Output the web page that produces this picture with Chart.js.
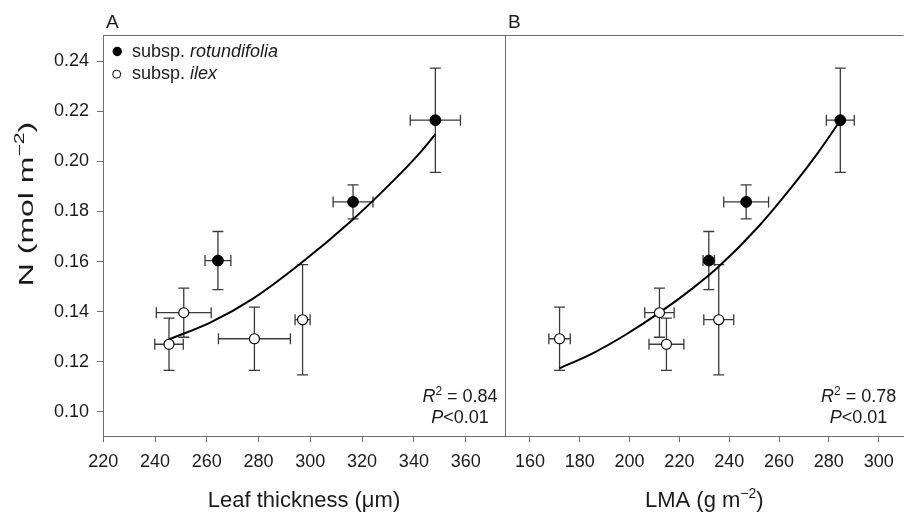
<!DOCTYPE html>
<html><head><meta charset="utf-8">
<script src="https://cdn.jsdelivr.net/npm/chart.js@4.4.0/dist/chart.umd.min.js"></script>
<style>
html,body{margin:0;padding:0;background:#fff;overflow:hidden;width:905px;height:514px;}
#wa{position:absolute;left:0;top:0;width:520px;height:514px;}
#wb{position:absolute;left:480px;top:0;width:430px;height:514px;}
canvas{display:block;}
</style></head><body>
<div id="wa"><canvas id="ca" width="520" height="514"></canvas></div>
<div id="wb"><canvas id="cb" width="430" height="514"></canvas></div>
<script>
// ---- data ----
const nRot      = [0.1604, 0.1838, 0.2164];
const nRotErr   = [0.0116, 0.0068, 0.0208];
const nIlex     = [0.1270, 0.1396, 0.1292, 0.1368];
const nIlexErr  = [0.0104, 0.0098, 0.0126, 0.0220];

const thickRot     = [264.3, 316.5, 348.3];
const thickRotErr  = [5.0, 7.7, 9.7];
const thickIlex    = [245.4, 251.1, 278.4, 297.0];
const thickIlexErr = [5.5, 10.6, 13.9, 2.9];

const lmaRot     = [231.8, 246.8, 284.6];
const lmaRotErr  = [2.3, 9.0, 5.6];
const lmaIlex    = [214.8, 212.0, 171.9, 235.8];
const lmaIlexErr = [7.0, 5.9, 4.3, 6.0];

const fitThickX = [245.5, 261.3, 278.0, 296.2, 316.1, 332.2, 342.5, 348.3];
const fitThickY = [0.1290, 0.1356, 0.1453, 0.1592, 0.1765, 0.1924, 0.2036, 0.2108];
const fitLmaX = [171.9, 185.2, 198.4, 211.7, 224.9, 235.5, 251.5, 264.7, 275.3, 284.6];
const fitLmaY = [0.1174, 0.1234, 0.1308, 0.1394, 0.1490, 0.1577, 0.1737, 0.1893, 0.2030, 0.2163];

const thickTicks = [220, 240, 260, 280, 300, 320, 340, 360];
const lmaTicks   = [160, 180, 200, 220, 240, 260, 280, 300];
const nTicks     = [0.10, 0.12, 0.14, 0.16, 0.18, 0.20, 0.22, 0.24];

const statsA = ['0.84', '0.01'];
const statsB = ['0.78', '0.01'];

// ---- styling ----
const FAM = '"Liberation Sans", Arial, Helvetica, sans-serif';
const AXIS = '#6e6e6e';
const TXT = '#1a1a1a';
const ERR = '#3a3a3a';
const f = (s, it) => (it ? 'italic ' : '') + s + 'px ' + FAM;

function rich(ctx, segs, x, y, align) {
  let w = 0;
  segs.forEach(s => { ctx.font = s.f; s.w = ctx.measureText(s.t).width; w += s.w; });
  let cx = align === 'center' ? x - w / 2 : (align === 'right' ? x - w : x);
  ctx.textAlign = 'left';
  ctx.textBaseline = 'alphabetic';
  segs.forEach(s => { ctx.font = s.f; ctx.fillText(s.t, cx, y + (s.dy || 0)); cx += s.w; });
}

const errorBars = {
  id: 'errorBars',
  beforeDatasetsDraw(chart) {
    const ctx = chart.ctx, xs = chart.scales.x, ys = chart.scales.y;
    ctx.save();
    ctx.strokeStyle = ERR; ctx.lineWidth = 1.3;
    const cap = 5.5;
    chart.data.datasets.forEach(ds => {
      if (!ds.errX) return;
      ds.data.forEach((p, i) => {
        const px = xs.getPixelForValue(p.x), py = ys.getPixelForValue(p.y);
        const x1 = xs.getPixelForValue(p.x - ds.errX[i]), x2 = xs.getPixelForValue(p.x + ds.errX[i]);
        const y1 = ys.getPixelForValue(p.y + ds.errY[i]), y2 = ys.getPixelForValue(p.y - ds.errY[i]);
        ctx.beginPath();
        ctx.moveTo(px, y1); ctx.lineTo(px, y2);
        ctx.moveTo(px - cap, y1); ctx.lineTo(px + cap, y1);
        ctx.moveTo(px - cap, y2); ctx.lineTo(px + cap, y2);
        ctx.moveTo(x1, py); ctx.lineTo(x2, py);
        ctx.moveTo(x1, py - cap); ctx.lineTo(x1, py + cap);
        ctx.moveTo(x2, py - cap); ctx.lineTo(x2, py + cap);
        ctx.stroke();
      });
    });
    ctx.restore();
  }
};

function frameAndText(panel) {
  return {
    id: 'frame' + panel,
    afterDraw(chart) {
      const ctx = chart.ctx, a = chart.chartArea;
      ctx.save();
      ctx.strokeStyle = AXIS; ctx.lineWidth = 1;
      const ty = Math.round(a.top) + 0.5;
      ctx.beginPath(); ctx.moveTo(a.left, ty); ctx.lineTo(a.right, ty); ctx.stroke();
      ctx.fillStyle = TXT;
      rich(ctx, [{t: panel, f: f(19)}], a.left + 3, a.top - 7, 'left');
      const cxArea = (a.left + a.right) / 2;
      const st = panel === 'A' ? statsA : statsB;
      const sx = a.right - 45;
      rich(ctx, [{t: 'R', f: f(18, true)}, {t: '2', f: f(12), dy: -7}, {t: ' = ' + st[0], f: f(18)}], sx, a.bottom - 34.5, 'center');
      rich(ctx, [{t: 'P', f: f(18, true)}, {t: '<' + st[1], f: f(18)}], sx, a.bottom - 13, 'center');
      if (panel === 'A') {
        ctx.fillStyle = '#000';
        ctx.beginPath(); ctx.arc(a.left + 14.3, a.top + 16.5, 4.7, 0, Math.PI * 2); ctx.fill();
        ctx.strokeStyle = '#000'; ctx.lineWidth = 1;
        ctx.beginPath(); ctx.arc(a.left + 13.7, a.top + 39.2, 4, 0, Math.PI * 2); ctx.stroke();
        ctx.fillStyle = TXT;
        rich(ctx, [{t: 'subsp. ', f: f(18)}, {t: 'rotundifolia', f: f(18, true)}], a.left + 29, a.top + 21.5, 'left');
        rich(ctx, [{t: 'subsp. ', f: f(18)}, {t: 'ilex', f: f(18, true)}], a.left + 29, a.top + 44, 'left');
        rich(ctx, [{t: 'Leaf thickness (', f: f(22)}, {t: '\u03bc', f: f(22)}, {t: 'm)', f: f(22)}], cxArea, 506.5, 'center');
        ctx.save();
        ctx.translate(33, 204);
        ctx.rotate(-Math.PI / 2);
        ctx.scale(1.52, 1);
        rich(ctx, [{t: 'N (mol m', f: f(21)}, {t: '\u22122', f: f(14), dy: -9}, {t: ')', f: f(21)}], 0, 0, 'center');
        ctx.restore();
      } else {
        rich(ctx, [{t: 'LMA (g m', f: f(22)}, {t: '\u22122', f: f(14), dy: -9}, {t: ')', f: f(22)}], cxArea, 506.5, 'center');
      }
      ctx.restore();
    }
  };
}

function buildChart(id, panel, xs, nR, nRE, xsE, xi, xiE, fitX, fitY, xMin, xMax, xTicks) {
  const gridOpts = {drawOnChartArea: false, drawTicks: true, tickLength: 6, color: AXIS, lineWidth: 1};
  const isA = panel === 'A';
  return new Chart(document.getElementById(id), {
    type: 'scatter',
    data: {
      datasets: [
        {
          label: 'fit', data: fitX.map((x, i) => ({x, y: fitY[i]})),
          showLine: true, pointRadius: 0, borderColor: '#000', borderWidth: 2,
          cubicInterpolationMode: 'monotone', fill: false, order: 3
        },
        {
          label: 'subsp. ilex', data: xi.map((x, i) => ({x, y: nIlex[i]})),
          errX: xiE, errY: nIlexErr,
          pointRadius: 5, pointBackgroundColor: '#fff', pointBorderColor: '#000', pointBorderWidth: 1.1, order: 1
        },
        {
          label: 'subsp. rotundifolia', data: xs.map((x, i) => ({x, y: nR[i]})),
          errX: xsE, errY: nRE,
          pointRadius: 5.4, pointBackgroundColor: '#000', pointBorderColor: '#000', pointBorderWidth: 1, order: 1
        }
      ]
    },
    options: {
      responsive: false, animation: false, devicePixelRatio: 1, events: [],
      layout: {padding: {top: 35, right: isA ? 15 : 3, bottom: 0, left: 0}},
      plugins: {legend: {display: false}, tooltip: {enabled: false}},
      scales: {
        x: {
          type: 'linear', min: xMin, max: xMax,
          afterBuildTicks: s => { s.ticks = xTicks.map(v => ({value: v})); },
          afterFit: s => { s.height = 78; },
          grid: gridOpts,
          border: {display: true, color: AXIS, width: 1},
          ticks: {font: {family: FAM, size: 18}, color: TXT, padding: 9, maxRotation: 0, autoSkip: false,
                  callback: v => String(v)}
        },
        y: {
          type: 'linear', min: 0.0904, max: 0.2504,
          afterBuildTicks: s => { s.ticks = nTicks.map(v => ({value: v})); },
          afterFit: s => { s.width = isA ? 103 : 25; },
          grid: isA ? gridOpts : {display: false, drawTicks: false},
          border: {display: true, color: AXIS, width: 1},
          ticks: {display: isA, font: {family: FAM, size: 18}, color: TXT, padding: 8,
                  callback: v => v.toFixed(2)}
        }
      }
    },
    plugins: [errorBars, frameAndText(panel)]
  });
}

buildChart('ca', 'A', thickRot, nRot, nRotErr, thickRotErr, thickIlex, thickIlexErr,
           fitThickX, fitThickY, 219.9, 375.2, thickTicks);
buildChart('cb', 'B', lmaRot, nRot, nRotErr, lmaRotErr, lmaIlex, lmaIlexErr,
           fitLmaX, fitLmaY, 150, 310, lmaTicks);
</script>
</body></html>
